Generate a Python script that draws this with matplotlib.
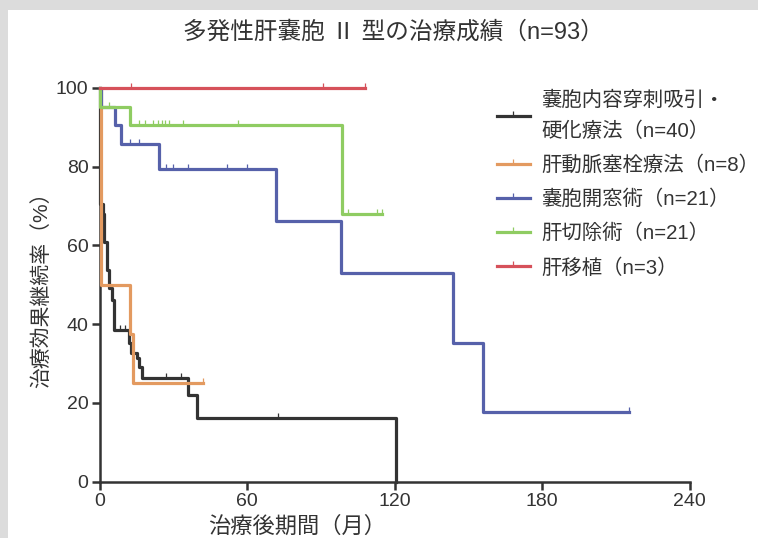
import numpy as np
import matplotlib.pyplot as plt
from matplotlib.lines import Line2D
from matplotlib.patches import Rectangle

plt.rcParams['font.family'] = ['Liberation Sans', 'Noto Sans CJK JP', 'DejaVu Sans']

# Kaplan-Meier curves (months, %)
# each value in *_s starts at the matching time in *_t
black_t = [0, 0.3, 1.3, 1.8, 2.9, 4.0, 4.9, 6.0, 12.1, 12.7, 15.1, 16.1, 17.2, 36.1, 39.5, 120.5]
black_s = [100, 70.6, 68.1, 60.9, 53.7, 49.1, 46.1, 38.6, 35.2, 32.6, 31.4, 29.2, 26.3, 22.0, 16.3, 0]
black_end = 120.5
black_cens = [8.2, 10.2, 27.0, 33.2, 72.5]

orange_t = [0, 0.6, 12.3, 13.6]
orange_s = [100, 50, 37.5, 25]
orange_end = 42.2
orange_cens = [42.2]

blue_t = [0, 0.5, 6.3, 8.7, 24.2, 71.8, 98.3, 143.9, 156.1]
blue_s = [100, 95.2, 90.5, 85.7, 79.3, 66.1, 52.9, 35.2, 17.6]
blue_end = 215.5
blue_cens = [12.4, 16.0, 27.0, 30.0, 36.1, 52.0, 60.2, 215.5]

green_t = [0, 0.3, 12.4, 98.8]
green_s = [100, 95.2, 90.5, 67.9]
green_end = 115.0
green_cens = [3.9, 16.2, 18.5, 21.9, 23.7, 25.3, 26.6, 28.3, 34.1, 56.5, 101.0, 113.0, 115.0]

red_t = [0]
red_s = [100]
red_end = 108.0
red_cens = [12.7, 91.0, 108.0]

labels = ['嚢胞内容穿刺吸引・\n硬化療法（n=40）', '肝動脈塞栓療法（n=8）',
          '嚢胞開窓術（n=21）', '肝切除術（n=21）', '肝移植（n=3）']
colors = ['#333333', '#e39a60', '#5661aa', '#8fcc62', '#d6515a']

series = [(black_t, black_s, black_end, black_cens),
          (orange_t, orange_s, orange_end, orange_cens),
          (blue_t, blue_s, blue_end, blue_cens),
          (green_t, green_s, green_end, green_cens),
          (red_t, red_s, red_end, red_cens)]

fig = plt.figure(figsize=(7.58, 5.38), dpi=100)
fig.patch.set_facecolor('#dcdcdc')
fig.patches.append(Rectangle((8 / 758, 0), 1, 1 - 10 / 538, transform=fig.transFigure,
                             facecolor='white', edgecolor='none', zorder=-5))
ax = fig.add_axes([99.5 / 758, 1 - 481.7 / 538, 590 / 758, 393.7 / 538])
ax.patch.set_alpha(0)

handles = []
for i in range(5):
    t, s, end, cens = series[i]
    tt = list(t) + [end]
    ss = list(s) + [s[-1]]
    ax.step(tt, ss, where='post', color=colors[i], lw=2.3, clip_on=False, zorder=3 + i)
    cs = [s[np.searchsorted(t, c, side='right') - 1] for c in cens]
    ax.plot(cens, cs, linestyle='none', marker=2, markersize=3.5, markeredgewidth=0.9,
            color=colors[i], clip_on=False, zorder=3 + i)
    handles.append(Line2D([], [], color=colors[i], lw=2.3, marker=2, markersize=3.5,
                          markeredgewidth=0.9))

ax.set_xlim(0, 240)
ax.set_ylim(0, 100)
ax.set_xticks([0, 60, 120, 180, 240])
ax.set_yticks([0, 20, 40, 60, 80, 100])
for side in ['top', 'right']:
    ax.spines[side].set_visible(False)
for side in ['left', 'bottom']:
    ax.spines[side].set_linewidth(1.8)
    ax.spines[side].set_color('#333333')
ax.tick_params(width=1.8, length=6, color='#333333', labelsize=14, labelcolor='#333333', pad=2)

ax.set_xlabel('治療後期間（月）', fontsize=16, color='#333333', labelpad=0)
ax.xaxis.set_label_coords(0.335, -0.088)
ax.set_ylabel('治療効果継続率（%）', fontsize=15, color='#333333', labelpad=3)

fig.text(393 / 758, 1 - 32 / 538, '多発性肝嚢胞 Ⅱ 型の治療成績（n=93）', fontsize=17,
         color='#333333', ha='center', va='center')

leg = ax.legend(handles, labels, loc='upper left', bbox_to_anchor=(497 / 758, 1 - 91 / 538),
                bbox_transform=fig.transFigure, frameon=False, borderpad=0, borderaxespad=0,
                fontsize=14.7, handlelength=1.6, handletextpad=0.55, labelspacing=0.72,
                numpoints=1, labelcolor='#333333')
for txt in leg.get_texts():
    txt.set_linespacing(1.7)

fig.savefig('out.png', dpi=100)
